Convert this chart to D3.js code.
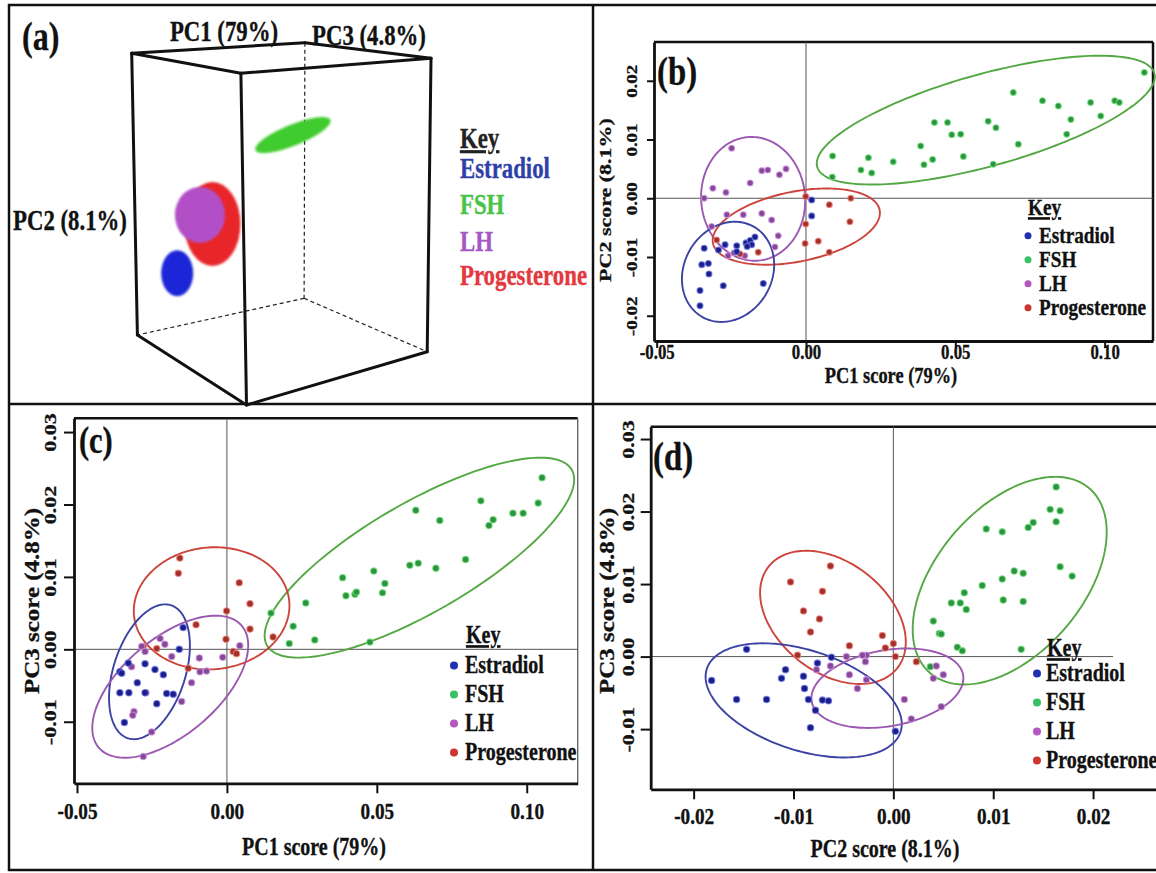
<!DOCTYPE html>
<html>
<head>
<meta charset="utf-8">
<script src="https://cdn.jsdelivr.net/npm/d3@7"></script>
<style>
  html, body { margin: 0; padding: 0; background: #ffffff; }
  svg { display: block; }
  text { font-family: "Liberation Serif", "Times New Roman", serif; font-weight: bold;
         stroke-width: 0.35px; paint-order: stroke; }
</style>
</head>
<body>
<svg id="fig" width="1156" height="873"></svg>
<script>
// ---------------------------------------------------------------------------
// Data: PCA scores of the four hormone groups
// ---------------------------------------------------------------------------
const groups = ["Estradiol", "FSH", "LH", "Progesterone"];

// (b) PC1 vs PC2
const bEstradiol = [[-0.0341,-0.0085],[-0.0349,-0.0113],[-0.0327,-0.0111],[-0.0325,-0.0129],[-0.0277,-0.0149],
  [-0.0355,-0.0157],[-0.0355,-0.0183],[-0.0143,-0.0145],[-0.0271,-0.0079],[-0.0232,-0.0081],[-0.0201,-0.0076],
  [-0.0187,-0.0072],[-0.0182,-0.0079],[-0.0293,-0.0088],[-0.0232,-0.0091],[0.0019,-0.0003],[0.0019,-0.0030],
  [-0.0197,-0.0082],[-0.0171,-0.0066]];
const bFSH = [[0.1133,0.0214],[0.0694,0.0180],[0.0792,0.0166],[0.0845,0.0157],[0.0953,0.0163],[0.1034,0.0166],
  [0.1049,0.0163],[0.0887,0.0134],[0.0987,0.0140],[0.0873,0.0109],[0.0610,0.0131],[0.0636,0.0120],[0.0711,0.0092],
  [0.0430,0.0129],[0.0474,0.0129],[0.0488,0.0108],[0.0518,0.0109],[0.0527,0.0071],[0.0627,0.0058],[0.0384,0.0089],
  [0.0395,0.0057],[0.0424,0.0066],[0.0292,0.0062],[0.0209,0.0069],[0.0184,0.0048],[0.0220,0.0043],[0.0089,0.0072],
  [0.0088,0.0036]];
const bLH = [[-0.0249,0.0085],[-0.0312,0.0017],[-0.0268,0.0010],[-0.0341,0.0000],[-0.0148,0.0047],[-0.0128,0.0048],
  [-0.0089,0.0040],[-0.0067,0.0050],[-0.0187,0.0026],[-0.0265,-0.0028],[-0.0316,-0.0048],[-0.0104,-0.0083],
  [-0.0241,-0.0093],[-0.0205,-0.0098],[-0.0261,-0.0098],[0.0000,0.0002],[-0.0210,-0.0028],[-0.0148,-0.0026],
  [-0.0115,-0.0037],[-0.0093,-0.0064]];
const bProgesterone = [[-0.0001,-0.0044],[-0.0003,-0.0077],[0.0041,-0.0073],[0.0078,-0.0011],[0.0150,0.0000],
  [0.0147,-0.0040],[0.0078,-0.0092],[-0.0001,0.0003],[-0.0299,-0.0071],[-0.0221,-0.0095],[-0.0160,-0.0092]];

// (c) PC1 vs PC3
const cEstradiol = [[-0.0146,0.0030],[-0.0159,0.0000],[-0.0273,-0.0020],[-0.0240,-0.0028],[-0.0212,-0.0035],
  [-0.0357,-0.0031],[-0.0351,-0.0033],[-0.0329,-0.0019],[-0.0299,-0.0046],[-0.0357,-0.0060],[-0.0327,-0.0060],
  [-0.0273,-0.0060],[-0.0201,-0.0061],[-0.0179,-0.0062],[-0.0234,-0.0075],[-0.0342,-0.0101]];
const cFSH = [[0.1051,0.0237],[0.0847,0.0205],[0.1038,0.0202],[0.0954,0.0188],[0.0988,0.0188],[0.0630,0.0192],
  [0.0710,0.0178],[0.0888,0.0179],[0.0874,0.0171],[0.0796,0.0124],[0.0610,0.0116],[0.0638,0.0119],[0.0697,0.0112],
  [0.0490,0.0108],[0.0386,0.0099],[0.0527,0.0091],[0.0519,0.0078],[0.0397,0.0074],[0.0427,0.0076],[0.0432,0.0079],
  [0.0263,0.0064],[0.0147,0.0050],[0.0221,0.0032],[0.0208,0.0008],[0.0293,0.0013],[0.0477,0.0010]];
const cLH = [[-0.0223,0.0015],[-0.0207,0.0007],[-0.0284,0.0004],[-0.0273,-0.0003],[-0.0184,-0.0010],[-0.0092,-0.0012],
  [-0.0014,-0.0011],[0.0043,0.0005],[-0.0318,-0.0024],[-0.0118,-0.0046],[-0.0151,-0.0072],[-0.0310,-0.0086],
  [-0.0314,-0.0091],[-0.0251,-0.0114],[-0.0279,-0.0148],[-0.0090,-0.0031],[-0.0068,-0.0030],[-0.0270,-0.0060]];
const cProgesterone = [[-0.0157,0.0126],[-0.0162,0.0105],[0.0041,0.0092],[0.0077,0.0063],[-0.0001,0.0053],
  [0.0077,0.0028],[-0.0003,0.0014],[0.0154,0.0017],[-0.0103,0.0034],[0.0021,-0.0003],[0.0032,-0.0006],
  [-0.0234,0.0001],[-0.0279,0.0004],[-0.0129,-0.0026]];

// (d) PC2 vs PC3
const dEstradiol = [[-0.0147,0.0010],[-0.0182,-0.0033],[-0.0157,-0.0059],[-0.0127,-0.0059],[-0.0108,-0.0018],
  [-0.0112,-0.0030],[-0.0090,-0.0027],[-0.0089,-0.0044],[-0.0085,-0.0059],[-0.0071,-0.0060],[-0.0065,-0.0061],
  [-0.0078,-0.0074],[-0.0083,-0.0098],[-0.0076,-0.0009],[-0.0062,-0.0001],[0.0002,-0.0103]];
const dFSH = [[0.0163,0.0234],[0.0157,0.0203],[0.0167,0.0201],[0.0163,0.0186],[0.0093,0.0176],[0.0109,0.0172],
  [0.0135,0.0178],[0.0140,0.0185],[0.0167,0.0124],[0.0179,0.0111],[0.0121,0.0118],[0.0130,0.0115],[0.0109,0.0107],
  [0.0089,0.0098],[0.0071,0.0088],[0.0058,0.0074],[0.0067,0.0074],[0.0073,0.0065],[0.0110,0.0078],[0.0130,0.0076],
  [0.0040,0.0049],[0.0046,0.0032],[0.0048,0.0031],[0.0064,0.0013],[0.0069,0.0008],[0.0128,0.0010],[0.0037,-0.0014]];
const dLH = [[-0.0077,-0.0018],[-0.0063,-0.0013],[-0.0044,-0.0025],[-0.0036,-0.0044],[-0.0028,-0.0007],
  [-0.0027,0.0002],[-0.0031,0.0002],[-0.0047,0.0000],[-0.0027,-0.0032],[0.0011,-0.0059],[0.0018,-0.0086],
  [0.0048,-0.0069],[0.0040,-0.0030],[0.0050,-0.0025],[0.0043,-0.0013]];
const dProgesterone = [[-0.0063,0.0125],[-0.0103,0.0103],[-0.0071,0.0090],[-0.0090,0.0063],[-0.0074,0.0052],
  [-0.0083,0.0034],[-0.0011,0.0029],[0.0000,0.0018],[-0.0044,0.0015],[-0.0096,0.0002],[0.0002,0.0000],
  [0.0023,-0.0007],[-0.0008,0.0012]];

// Confidence ellipses: centre c and two conjugate semi-axes u, v (score units)
const bEllipses = [
  {group: "FSH",          c: [0.0602, 0.0133],   u: [0.05645, 0.00796], v: [0.00411, -0.00754]},
  {group: "LH",           c: [-0.0177, -0.0001], u: [0.00181, -0.01051], v: [-0.01734, -0.00077]},
  {group: "Progesterone", c: [-0.00325, -0.00483], u: [0.0279, 0.00283], v: [0.0023, -0.00584]},
  {group: "Estradiol",    c: [-0.0261, -0.01253], u: [-0.0087, -0.00766], v: [-0.01276, 0.00374]}
];
const cEllipses = [
  {group: "FSH",          c: [0.0642, 0.01266],  u: [0.0508, 0.01214],  v: [0.00917, -0.00657]},
  {group: "Progesterone", c: [-0.0051, 0.00566], u: [0.0259, 0.00094],  v: [0.00177, -0.00838]},
  {group: "Estradiol",    c: [-0.02583, -0.0031], u: [0.0072, 0.00918], v: [0.0114, -0.00154]},
  {group: "LH",           c: [-0.0189, -0.00516], u: [0.02383, 0.00842], v: [0.0104, -0.00503]}
];
const dEllipses = [
  {group: "FSH",          c: [0.01165, 0.01047], u: [0.0080, 0.0127],   v: [0.00551, -0.00661]},
  {group: "Progesterone", c: [-0.00605, 0.00541], u: [0.00646, -0.00697], v: [-0.00339, -0.00598]},
  {group: "Estradiol",    c: [-0.00898, -0.00604], u: [0.0097, -0.00435], v: [-0.00155, -0.00656]},
  {group: "LH",           c: [-0.0006, -0.00436], u: [0.00758, 0.00184], v: [0.00066, -0.00516]}
];

// Axis ranges and ticks
const bXDomain = [-0.0509, 0.1162], bYDomain = [-0.0243, 0.0266];
const cXDomain = [-0.0510, 0.1170], cYDomain = [-0.0185, 0.0319];
const dXDomain = [-0.0243, 0.0264], dYDomain = [-0.0183, 0.0317];
const pc1Ticks = [-0.05, 0.00, 0.05, 0.10];
const pc2TicksB = [-0.02, -0.01, 0.00, 0.01, 0.02];
const pc3Ticks = [-0.01, 0.00, 0.01, 0.02, 0.03];
const pc2TicksD = [-0.02, -0.01, 0.00, 0.01, 0.02];

// (a) 3-D score clusters: position inside the unit box (s: PC1 depth, t: PC3, h: PC2 downwards)
const clusters3d = [
  {group: "FSH",          pos: [0.30, 0.456, 0.246]},
  {group: "Estradiol",    pos: [0.62, 0.0, 0.706]},
  {group: "Progesterone", pos: [0.286, 0.0, 0.493]},
  {group: "LH",           pos: [0.40, 0.0, 0.48]}
];

// ---------------------------------------------------------------------------
// Styles
// ---------------------------------------------------------------------------
const pointFill   = {Estradiol: "#1b1e8a", FSH: "#2c9440", LH: "#87489a", Progesterone: "#a3302b"};
const pointHalo   = {Estradiol: "#6b76e0", FSH: "#74e07e", LH: "#cf98df", Progesterone: "#ee8a80"};
const ringStroke  = {Estradiol: "#3b42a3", FSH: "#54a843", LH: "#9a58b0", Progesterone: "#cc443c"};
const legendDot   = {Estradiol: "#2030b0", FSH: "#38c066", LH: "#b458c0", Progesterone: "#cc3530"};
const keyColour3d = {Estradiol: "#2f3fa8", FSH: "#49c249", LH: "#a657c4", Progesterone: "#e2383e"};
const blobColour  = {Estradiol: "#1a28d8", FSH: "#3fcc2e", LH: "#b24fc6", Progesterone: "#e8262b"};
const blobShape   = {FSH: {rx: 40.5, ry: 10.5, rot: -22}, Estradiol: {rx: 16, ry: 23, rot: 0},
                     Progesterone: {rx: 28, ry: 42, rot: 0}, LH: {rx: 25, ry: 28, rot: 0}};
const INK = "#111";
const SQ = 0.8;   // horizontal squeeze of the serif lettering

const svg = d3.select("#fig");
const defs = svg.append("defs");
defs.append("filter").attr("id", "soft").attr("x", "-20%").attr("y", "-20%").attr("width", "140%").attr("height", "140%")
  .append("feGaussianBlur").attr("stdDeviation", 1.2);

function label(g, s, x, y, size, opt = {}) {
  const tr = opt.rotate
    ? `translate(${x},${y}) rotate(${opt.rotate}) scale(1,${SQ})`
    : `translate(${x},${y}) scale(${SQ},1)`;
  const col = opt.fill || INK;
  return g.append("text")
    .attr("transform", tr)
    .attr("font-size", size)
    .attr("text-anchor", opt.anchor || "start")
    .attr("fill", col).attr("stroke", col)
    .attr("text-decoration", opt.underline ? "underline" : null)
    .text(s);
}

const fmt = d => d.toFixed(2);

// ---------------------------------------------------------------------------
// Figure borders
// ---------------------------------------------------------------------------
const border = svg.append("g").attr("stroke", INK).attr("stroke-width", 2.5);
border.append("line").attr("x1", 9).attr("x2", 9).attr("y1", 4).attr("y2", 871);
border.append("line").attr("x1", 8).attr("x2", 1156).attr("y1", 5).attr("y2", 5);
border.append("line").attr("x1", 8).attr("x2", 1156).attr("y1", 870).attr("y2", 870);
border.append("line").attr("x1", 593).attr("x2", 593).attr("y1", 4).attr("y2", 871);
border.append("line").attr("x1", 8).attr("x2", 1156).attr("y1", 404).attr("y2", 404);

// ---------------------------------------------------------------------------
// Scatter panels (b), (c), (d)
// ---------------------------------------------------------------------------
function scatterPanel(cfg) {
  const f = cfg.frame;
  const x = d3.scaleLinear().domain(cfg.xDomain).range([f.left, f.right]);
  const y = d3.scaleLinear().domain(cfg.yDomain).range([f.bottom, f.top]);
  const g = svg.append("g");

  // frame
  g.append("line").attr("x1", f.left).attr("x2", f.right).attr("y1", f.top).attr("y2", f.top)
    .attr("stroke", INK).attr("stroke-width", 2.5);
  if (cfg.rightEdge) {
    g.append("line").attr("x1", f.right).attr("x2", f.right).attr("y1", f.top).attr("y2", f.bottom)
      .attr("stroke", cfg.rightEdge.colour).attr("stroke-width", cfg.rightEdge.width);
  }

  // zero reference lines
  g.append("line").attr("x1", x(0)).attr("x2", x(0)).attr("y1", f.top).attr("y2", f.bottom)
    .attr("stroke", "#555").attr("stroke-width", 1);
  g.append("line").attr("x1", f.left).attr("x2", x(cfg.hLineEnd)).attr("y1", y(0)).attr("y2", y(0))
    .attr("stroke", "#555").attr("stroke-width", 1);

  // ellipses
  const ts = d3.range(0, 2 * Math.PI, Math.PI / 90);
  const ring = d3.line().curve(d3.curveLinearClosed);
  g.selectAll("path.ring").data(cfg.ellipses).join("path")
    .attr("class", "ring")
    .attr("d", e => ring(ts.map(t => [
      x(e.c[0] + e.u[0] * Math.cos(t) + e.v[0] * Math.sin(t)),
      y(e.c[1] + e.u[1] * Math.cos(t) + e.v[1] * Math.sin(t))
    ])))
    .attr("fill", "none")
    .attr("stroke", e => ringStroke[e.group])
    .attr("stroke-width", 1.9);

  // points
  cfg.series.forEach(s => {
    const pg = g.append("g");
    pg.selectAll("circle").data(s.values).join("circle")
      .attr("cx", d => x(d[0])).attr("cy", d => y(d[1])).attr("r", cfg.r)
      .attr("fill", pointFill[s.group])
      .attr("stroke", pointHalo[s.group]).attr("stroke-width", 1.1).attr("stroke-opacity", 0.8);
  });

  // axes
  const xa = g.append("g").attr("transform", `translate(0,${f.bottom})`)
    .call(d3.axisBottom(x).tickValues(cfg.xTicks).tickFormat(fmt).tickSize(cfg.tick).tickSizeOuter(0));
  const ya = g.append("g").attr("transform", `translate(${f.left},0)`)
    .call(d3.axisLeft(y).tickValues(cfg.yTicks).tickFormat(fmt).tickSize(cfg.tick).tickSizeOuter(0));
  [xa, ya].forEach(a => {
    a.attr("font-family", null).attr("font-size", null);
    a.select(".domain").attr("stroke", INK).attr("stroke-width", 2.8);
    a.selectAll(".tick line").attr("stroke", INK).attr("stroke-width", 2);
  });
  xa.selectAll(".tick text")
    .attr("y", null).attr("dy", null).attr("fill", INK).attr("stroke", INK)
    .attr("font-size", cfg.xTickFont)
    .attr("transform", `translate(0,${cfg.xTickOffset}) scale(${SQ},1)`);
  ya.selectAll(".tick text")
    .attr("x", null).attr("dy", null).attr("fill", INK).attr("stroke", INK)
    .attr("text-anchor", "middle")
    .attr("font-size", cfg.yTickFont)
    .attr("transform", `translate(${-cfg.yTickOffset},0) rotate(-90) scale(1,${SQ})`);

  // titles
  label(g, cfg.xTitle, cfg.xTitlePos[0], cfg.xTitlePos[1], cfg.xTitleFont, {anchor: "middle"});
  label(g, cfg.yTitle, cfg.yTitlePos[0], cfg.yTitlePos[1], cfg.yTitleFont, {anchor: "middle", rotate: -90});
  label(g, cfg.tag, cfg.tagPos[0], cfg.tagPos[1], cfg.tagFont);

  // key
  const k = cfg.key;
  label(g, "Key", k.keyX, k.keyY, k.font, {underline: true});
  groups.forEach((grp, i) => {
    const by = k.firstY + i * k.step;
    g.append("circle").attr("cx", k.dotX).attr("cy", by - k.font * 0.3).attr("r", k.dotR)
      .attr("fill", legendDot[grp]);
    label(g, grp, k.textX, by, k.font);
  });
}

scatterPanel({
  frame: {left: 654, top: 42, right: 1153, bottom: 341},
  rightEdge: {colour: INK, width: 2.5},
  xDomain: bXDomain, yDomain: bYDomain, xTicks: pc1Ticks, yTicks: pc2TicksB,
  hLineEnd: bXDomain[1],
  ellipses: bEllipses,
  series: [{group: "LH", values: bLH}, {group: "Progesterone", values: bProgesterone},
           {group: "Estradiol", values: bEstradiol}, {group: "FSH", values: bFSH}],
  r: 3, tick: 7, xTickFont: 21, yTickFont: 19, xTickOffset: 18, yTickOffset: 17,
  xTitle: "PC1 score (79%)", xTitlePos: [891, 383], xTitleFont: 23,
  yTitle: "PC2 score (8.1%)", yTitlePos: [611, 200], yTitleFont: 22,
  tag: "(b)", tagPos: [657, 85], tagFont: 41,
  key: {keyX: 1028, keyY: 215, dotX: 1028, dotR: 3.5, textX: 1039, firstY: 243, step: 24, font: 24}
});

scatterPanel({
  frame: {left: 74, top: 418.3, right: 577.7, bottom: 783.3},
  rightEdge: {colour: "#666", width: 1.4},
  xDomain: cXDomain, yDomain: cYDomain, xTicks: pc1Ticks, yTicks: pc3Ticks,
  hLineEnd: cXDomain[1],
  ellipses: cEllipses,
  series: [{group: "FSH", values: cFSH}, {group: "Progesterone", values: cProgesterone},
           {group: "LH", values: cLH}, {group: "Estradiol", values: cEstradiol}],
  r: 3.2, tick: 10, xTickFont: 24, yTickFont: 22, xTickOffset: 36, yTickOffset: 18,
  xTitle: "PC1 score (79%)", xTitlePos: [314, 855], xTitleFont: 25,
  yTitle: "PC3 score (4.8%)", yTitlePos: [39, 601], yTitleFont: 25,
  tag: "(c)", tagPos: [79, 453], tagFont: 38,
  key: {keyX: 466, keyY: 643, dotX: 454, dotR: 4, textX: 465, firstY: 673, step: 29, font: 25}
});

scatterPanel({
  frame: {left: 650.7, top: 426.7, right: 1157, bottom: 789.3},
  rightEdge: null,
  xDomain: dXDomain, yDomain: dYDomain, xTicks: pc2TicksD, yTicks: pc3Ticks,
  hLineEnd: 0.022,
  ellipses: dEllipses,
  series: [{group: "FSH", values: dFSH}, {group: "Progesterone", values: dProgesterone},
           {group: "LH", values: dLH}, {group: "Estradiol", values: dEstradiol}],
  r: 3.2, tick: 10, xTickFont: 24, yTickFont: 22, xTickOffset: 35, yTickOffset: 17,
  xTitle: "PC2 score (8.1%)", xTitlePos: [885, 857], xTitleFont: 25,
  yTitle: "PC3 score (4.8%)", yTitlePos: [614, 601], yTitleFont: 25,
  tag: "(d)", tagPos: [653, 470], tagFont: 41,
  key: {keyX: 1047, keyY: 656, dotX: 1037, dotR: 4, textX: 1046, firstY: 681, step: 29, font: 25}
});

// ---------------------------------------------------------------------------
// Panel (a): 3-D score box
// ---------------------------------------------------------------------------
const boxCorners = {
  TF: [240.9, 73.3], TL: [131.7, 53.3], TR: [431, 58.3], TB: [304.9, 42.7],
  BF: [246.5, 405],  BL: [137.4, 335],  BR: [427.2, 351.7], BB: [304.1, 298.3]
};
const lerp = (a, b, k) => [a[0] + (b[0] - a[0]) * k, a[1] + (b[1] - a[1]) * k];
function project([s, t, h]) {
  const C = boxCorners;
  const top = lerp(lerp(C.TF, C.TL, s), lerp(C.TR, C.TB, s), t);
  const bot = lerp(lerp(C.BF, C.BL, s), lerp(C.BR, C.BB, s), t);
  return lerp(top, bot, h);
}

const ga = svg.append("g");
const solidEdges = [["TL","TB"],["TB","TR"],["TL","TF"],["TF","TR"],["TL","BL"],["TF","BF"],["TR","BR"],["BL","BF"],["BF","BR"]];
const dashedEdges = [["TB","BB"],["BB","BL"],["BB","BR"]];
ga.selectAll("line.dash").data(dashedEdges).join("line").attr("class", "dash")
  .attr("x1", e => boxCorners[e[0]][0]).attr("y1", e => boxCorners[e[0]][1])
  .attr("x2", e => boxCorners[e[1]][0]).attr("y2", e => boxCorners[e[1]][1])
  .attr("stroke", "#222").attr("stroke-width", 1.2).attr("stroke-dasharray", "4,3");

// clusters
clusters3d.forEach(cl => {
  const p = project(cl.pos), sh = blobShape[cl.group];
  ga.append("ellipse")
    .attr("transform", `translate(${p[0]},${p[1]}) rotate(${sh.rot})`)
    .attr("rx", sh.rx).attr("ry", sh.ry)
    .attr("fill", blobColour[cl.group])
    .attr("filter", "url(#soft)");
});

ga.selectAll("line.edge").data(solidEdges).join("line").attr("class", "edge")
  .attr("x1", e => boxCorners[e[0]][0]).attr("y1", e => boxCorners[e[0]][1])
  .attr("x2", e => boxCorners[e[1]][0]).attr("y2", e => boxCorners[e[1]][1])
  .attr("stroke", INK).attr("stroke-width", 3).attr("stroke-linecap", "round");

label(ga, "(a)", 22, 50, 40);
label(ga, "PC1 (79%)", 224, 41, 28.5, {anchor: "middle"});
label(ga, "PC3 (4.8%)", 312, 45, 28.5);
label(ga, "PC2 (8.1%)", 13, 230, 28.5);

label(ga, "Key", 460, 148, 28.5, {underline: true, fill: "#222"});
const keyBase3d = [178, 214, 251, 285];
groups.forEach((grp, i) => label(ga, grp, 460, keyBase3d[i], 28.5, {fill: keyColour3d[grp]}));
</script>
</body>
</html>
